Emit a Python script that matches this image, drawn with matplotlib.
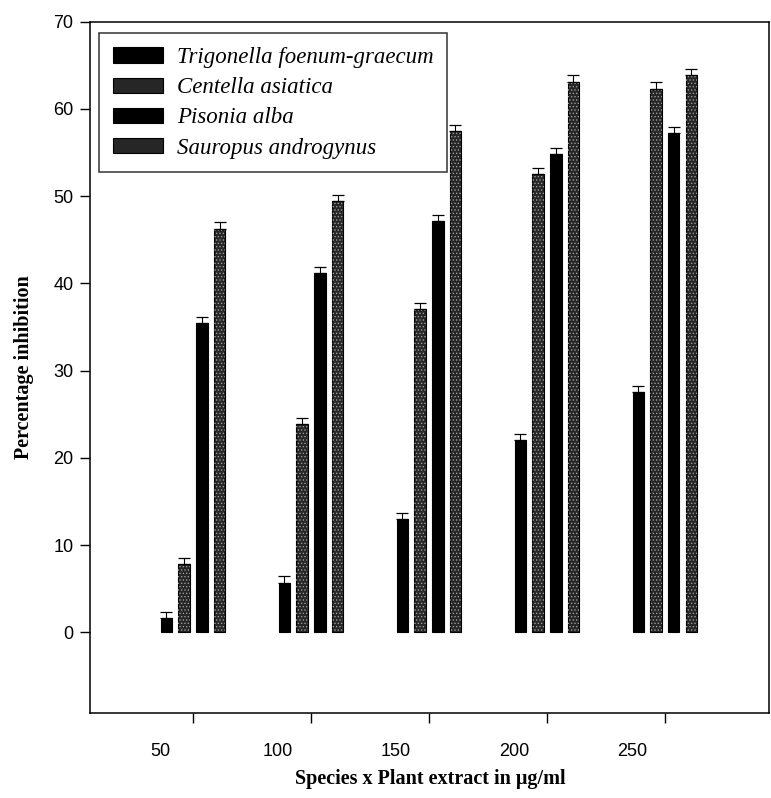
import numpy as np
import matplotlib.pyplot as plt
from matplotlib.transforms import ScaledTranslation

# Concentrations (µg/ml) and species
doses = ['50', '100', '150', '200', '250']
species = ['Trigonella foenum-graecum', 'Centella asiatica',
           'Pisonia alba', 'Sauropus androgynus']

# Percentage inhibition per species, one value per dose
trigonella = [1.6, 5.7, 13.0, 22.0, 27.5]
centella = [7.8, 23.9, 37.0, 52.5, 62.3]
pisonia = [35.4, 41.2, 47.1, 54.8, 57.2]
sauropus = [46.2, 49.4, 57.4, 63.1, 63.9]

# Standard errors (upper caps only)
err_trigonella = [0.7, 0.7, 0.7, 0.7, 0.7]
err_centella = [0.7, 0.7, 0.7, 0.7, 0.8]
err_pisonia = [0.7, 0.7, 0.7, 0.7, 0.7]
err_sauropus = [0.8, 0.7, 0.7, 0.8, 0.7]

values = [trigonella, centella, pisonia, sauropus]
errors = [err_trigonella, err_centella, err_pisonia, err_sauropus]
speckled = [False, True, False, True]

plt.rcParams['hatch.linewidth'] = 0.6

fig = plt.figure(figsize=(7.71, 7.98), dpi=100)
ax = fig.add_axes([0.117, 0.107, 0.881, 0.866])

x = np.arange(1, len(doses) + 1)
step = 0.150
width = 0.097

for i, (vals, errs) in enumerate(zip(values, errors)):
    xs = x + (i - 1.5) * step
    if speckled[i]:
        ax.bar(xs, vals, width, color='#262626', edgecolor='black', linewidth=0.8,
               label=species[i], zorder=2)
        ax.bar(xs, vals, width, color='none', edgecolor='#9a9a9a', hatch='.....',
               linewidth=0, zorder=3)
    else:
        ax.bar(xs, vals, width, color='black', edgecolor='black', linewidth=0.8,
               label=species[i], zorder=2)
    ax.errorbar(xs, vals, yerr=[np.zeros(len(vals)), errs], fmt='none',
                ecolor='black', elinewidth=0.8, capsize=4.5, capthick=0.9, zorder=4)

ax.set_xlim(0.129, 5.886)
ax.set_ylim(-9.2, 70)
ax.set_yticks(range(0, 71, 10))
ax.set_xticks(x)
ax.set_xticklabels(doses)

for s in ax.spines.values():
    s.set_linewidth(1.1)

ax.tick_params(axis='y', direction='out', length=7, width=1, pad=5, labelsize=13)
ax.tick_params(axis='x', direction='out', length=7, width=1, pad=15, labelsize=13)
for t in ax.get_yticklabels() + ax.get_xticklabels():
    t.set_fontfamily('Liberation Sans')

# tick labels sit a little left of their tick marks
shift = ScaledTranslation(-33 / 100, 0, fig.dpi_scale_trans)
for t in ax.get_xticklabels():
    t.set_transform(t.get_transform() + shift)

ax.set_xlabel('Species x Plant extract in \u03bcg/ml', fontfamily='Liberation Serif',
              fontweight='bold', fontsize=14.5, labelpad=6)
ax.set_ylabel('Percentage inhibition', fontfamily='Liberation Serif',
              fontweight='bold', fontsize=14.5, labelpad=14)

leg = ax.legend(loc='upper left', bbox_to_anchor=(0.013, 0.983), borderaxespad=0,
                prop={'family': 'Liberation Serif', 'style': 'italic', 'size': 16.5},
                handlelength=2.2, handleheight=0.65, handletextpad=0.6,
                labelspacing=0.4, borderpad=0.6, fancybox=False, frameon=True)
leg.get_frame().set_edgecolor('black')
leg.get_frame().set_linewidth(1.1)

fig.savefig('out.png', dpi=100)
